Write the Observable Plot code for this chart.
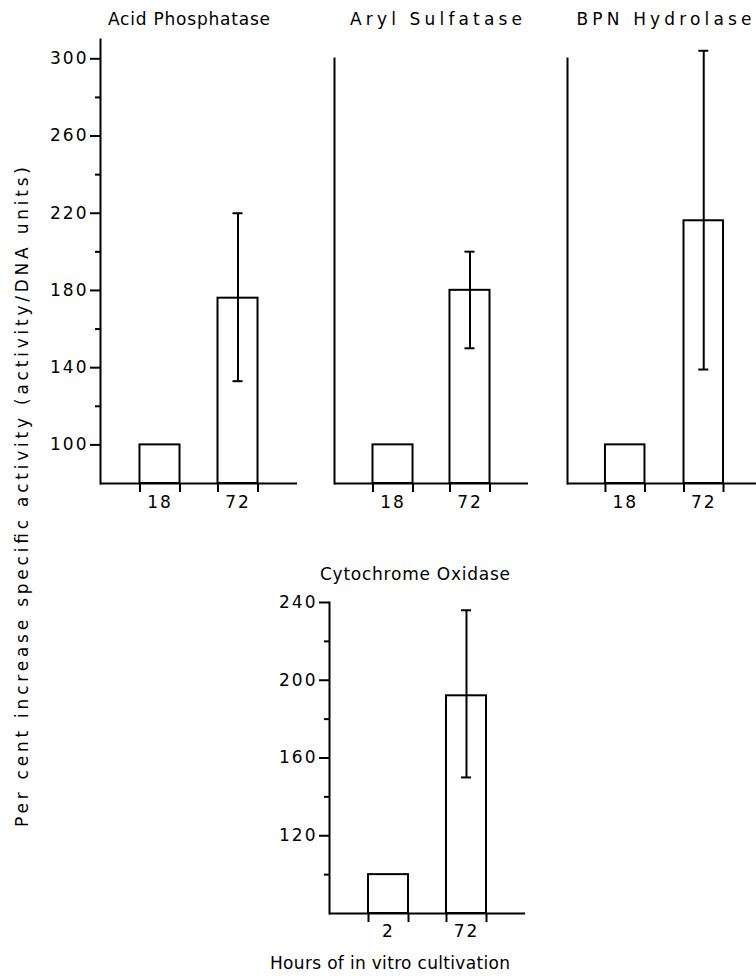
<!DOCTYPE html>
<html><head><meta charset="utf-8">
<script src="https://cdn.jsdelivr.net/npm/d3@7"></script>
<script src="https://cdn.jsdelivr.net/npm/@observablehq/plot@0.6"></script>
<style>
body{margin:0;background:#fff;}
#root{position:relative;width:756px;height:978px;overflow:hidden;background:#fff;}
#root svg{position:absolute;background:transparent;max-width:none;}
</style></head><body><div id="root"></div>
<script>
// ---- data ----
const panelTitles = ["Acid Phosphatase", "Aryl Sulfatase", "BPN Hydrolase", "Cytochrome Oxidase"];
const hoursTop = ["18", "72"];
const hoursBottom = ["2", "72"];
const acidMean = [100, 176], acidLow = [null, 133], acidHigh = [null, 220];
const arylMean = [100, 180], arylLow = [null, 150], arylHigh = [null, 200];
const bpnMean  = [100, 216], bpnLow  = [null, 139], bpnHigh  = [null, 304];
const cytoMean = [100, 192], cytoLow = [null, 150], cytoHigh = [null, 236];
const majorTop = [100, 140, 180, 220, 260, 300];
const minorTop = [120, 160, 200, 240, 280];
const majorBottom = [120, 160, 200, 240];
const minorBottom = [100, 140, 180, 220];
const yTitle = "Per cent increase specific activity (activity/DNA units)";
const xTitle = "Hours of in vitro cultivation";

const FONT = "DejaVu Sans";
const root = document.getElementById("root");

function panel(c) {
  const rows = c.hours.map((h, i) => ({h, v: c.mean[i], lo: c.low[i], hi: c.high[i]}));
  const errs = rows.filter(d => d.lo != null);
  const base = c.domain[0];
  const bw = d3.scaleBand().domain(c.hours).range([c.ml, c.width - c.mr])
    .paddingInner(c.pi).paddingOuter(c.po).align(c.align ?? 0.5).bandwidth();
  const sw = 2;
  const marks = [
    Plot.barY(rows, {x: "h", y1: base, y2: "v", fill: "white", stroke: "black", strokeWidth: sw}),
    Plot.ruleX(rows, {x: "h", y1: base, y2: base, dx: -bw / 2, insetBottom: -9, stroke: "black", strokeWidth: sw}),
    Plot.ruleX(rows, {x: "h", y1: base, y2: base, dx: bw / 2, insetBottom: -9, stroke: "black", strokeWidth: sw}),
    Plot.ruleX(errs, {x: "h", y1: "lo", y2: "hi", stroke: "black", strokeWidth: sw}),
    Plot.tickY(errs, {x: "h", y: "lo", inset: (bw - 10) / 2, stroke: "black", strokeWidth: sw}),
    Plot.tickY(errs, {x: "h", y: "hi", inset: (bw - 10) / 2, stroke: "black", strokeWidth: sw}),
    Plot.frame({anchor: "left", stroke: "black", strokeWidth: sw}),
    Plot.ruleY([base], {stroke: "black", strokeWidth: sw}),
    Plot.axisX({tickSize: 0, tickPadding: c.tickPad, label: null})
  ];
  if (c.major) {
    marks.push(
      Plot.axisY({ticks: c.major, tickSize: 10, tickPadding: 2, label: null, strokeWidth: sw}),
      Plot.axisY({ticks: c.minor, tickSize: 5, tickFormat: () => "", label: null, strokeWidth: sw})
    );
  }
  const svg = Plot.plot({
    width: c.width, height: c.height,
    marginTop: c.mt, marginBottom: c.mb, marginLeft: c.ml, marginRight: c.mr,
    x: {type: "band", domain: c.hours, paddingInner: c.pi, paddingOuter: c.po, align: c.align ?? 0.5, round: false},
    y: {domain: c.domain, ...(c.major ? {} : {axis: null})},
    style: {fontFamily: FONT, fontSize: "17px", letterSpacing: "2px", color: "black", background: "transparent", overflow: "visible"},
    marks
  });
  svg.style.left = c.left + "px";
  svg.style.top = c.top + "px";
  root.appendChild(svg);
}

panel({hours: hoursTop, mean: acidMean, low: acidLow, high: acidHigh, domain: [80, 310], major: majorTop, minor: minorTop,
  left: 0, top: 0, width: 300, height: 520, mt: 39, mb: 37, ml: 100, mr: 3, pi: 0.487, po: 0.506, tickPad: 12});
panel({hours: hoursTop, mean: arylMean, low: arylLow, high: arylHigh, domain: [80, 300],
  left: 300, top: 0, width: 230, height: 520, mt: 58, mb: 37, ml: 34, mr: 2, pi: 0.48, po: 0.5, tickPad: 12});
panel({hours: hoursTop, mean: bpnMean, low: bpnLow, high: bpnHigh, domain: [80, 300],
  left: 533, top: 0, width: 223, height: 520, mt: 58, mb: 37, ml: 34, mr: 0, pi: 0.497, po: 0.452, align: 0.535, tickPad: 12});
panel({hours: hoursBottom, mean: cytoMean, low: cytoLow, high: cytoHigh, domain: [80, 240], major: majorBottom, minor: minorBottom,
  left: 300, top: 560, width: 228, height: 385, mt: 42, mb: 32, ml: 29, mr: 3, pi: 0.487, po: 0.5, tickPad: 11});

// ---- titles and axis labels ----
const ov = d3.create("svg").attr("width", 756).attr("height", 978)
  .style("left", "0px").style("top", "0px").style("pointer-events", "none")
  .attr("font-family", FONT).attr("font-size", 17).attr("fill", "black");
const labels = [
  {t: panelTitles[0], x: 189, y: 25, len: 162},
  {t: panelTitles[1], x: 436, y: 25, len: 172},
  {t: panelTitles[2], x: 664, y: 25, len: 175},
  {t: panelTitles[3], x: 415, y: 580, len: 190},
  {t: xTitle, x: 390, y: 969, len: 240},
  {t: yTitle, x: 28, y: 497, len: 660, rot: true}
];
for (const l of labels) {
  const t = ov.append("text").attr("text-anchor", "middle")
    .attr("textLength", l.len).attr("lengthAdjust", "spacing").text(l.t);
  if (l.rot) t.attr("transform", `translate(${l.x},${l.y}) rotate(-90)`);
  else t.attr("x", l.x).attr("y", l.y);
}
root.appendChild(ov.node());
</script></body></html>
